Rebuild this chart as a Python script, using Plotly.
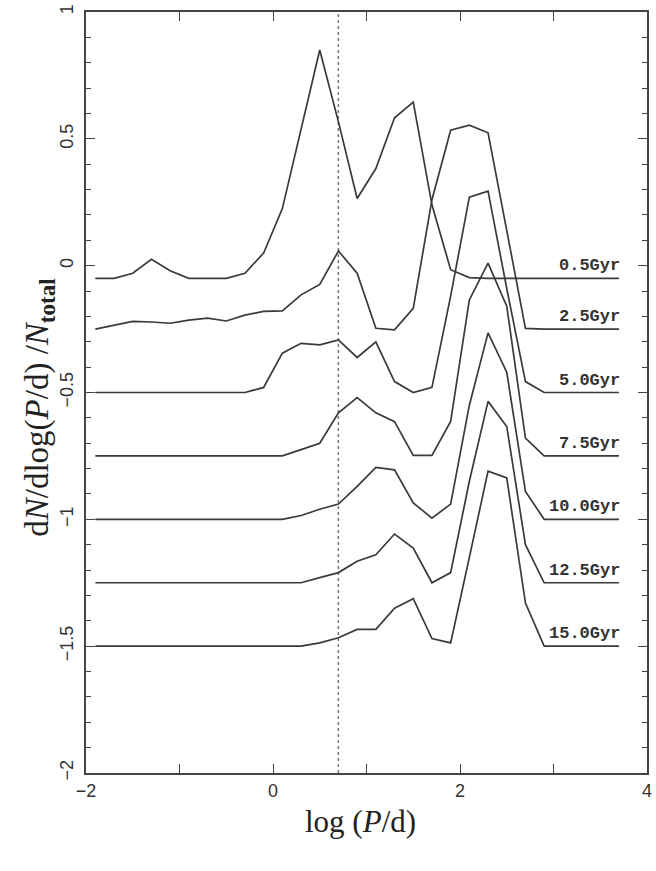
import plotly.graph_objects as go

LOGP = [-1.9, -1.7, -1.5, -1.3, -1.1, -0.9, -0.7, -0.5, -0.3, -0.1, 0.1, 0.3, 0.5,
        0.7, 0.9, 1.1, 1.3, 1.5, 1.7, 1.9, 2.1, 2.3, 2.5, 2.7, 2.9, 3.7]

AGE_LABELS = ["0.5Gyr", "2.5Gyr", "5.0Gyr", "7.5Gyr", "10.0Gyr", "12.5Gyr", "15.0Gyr"]

G05 = [-0.05, -0.05, -0.03, 0.025, -0.02, -0.05, -0.05, -0.05, -0.03, 0.05, 0.225, 0.54, 0.85,
       0.567, 0.265, 0.383, 0.583, 0.645, 0.24, -0.016, -0.047, -0.05, -0.05, -0.05, -0.05, -0.05]
G25 = [-0.25, -0.235, -0.22, -0.222, -0.227, -0.215, -0.207, -0.218, -0.195, -0.18, -0.178, -0.115, -0.074,
       0.058, -0.03, -0.247, -0.253, -0.168, 0.26, 0.534, 0.554, 0.524, 0.14, -0.247, -0.25, -0.25]
G50 = [-0.5, -0.5, -0.5, -0.5, -0.5, -0.5, -0.5, -0.5, -0.5, -0.48, -0.345, -0.306, -0.312,
       -0.293, -0.362, -0.30, -0.457, -0.5, -0.48, -0.12, 0.27, 0.294, -0.09, -0.457, -0.5, -0.5]
G75 = [-0.75, -0.75, -0.75, -0.75, -0.75, -0.75, -0.75, -0.75, -0.75, -0.75, -0.75, -0.725, -0.70,
       -0.58, -0.52, -0.58, -0.615, -0.748, -0.748, -0.614, -0.135, 0.01, -0.16, -0.68, -0.75, -0.75]
G100 = [-1.0, -1.0, -1.0, -1.0, -1.0, -1.0, -1.0, -1.0, -1.0, -1.0, -1.0, -0.985, -0.96,
        -0.94, -0.87, -0.795, -0.805, -0.935, -0.995, -0.94, -0.55, -0.265, -0.42, -0.89, -1.0, -1.0]
G125 = [-1.25, -1.25, -1.25, -1.25, -1.25, -1.25, -1.25, -1.25, -1.25, -1.25, -1.25, -1.25, -1.23,
        -1.21, -1.165, -1.14, -1.058, -1.113, -1.25, -1.21, -0.85, -0.535, -0.634, -1.10, -1.25, -1.25]
G150 = [-1.5, -1.5, -1.5, -1.5, -1.5, -1.5, -1.5, -1.5, -1.5, -1.5, -1.5, -1.5, -1.487,
        -1.467, -1.434, -1.434, -1.35, -1.313, -1.47, -1.487, -1.15, -0.81, -0.837, -1.33, -1.5, -1.5]

SERIES = [G05, G25, G50, G75, G100, G125, G150]

X_TICKS = [-2, -1, 0, 1, 2, 3, 4]
X_TICKTEXT = ["\u22122", "", "0", "", "2", "", "4"]
Y_TICKS = [1, 0.5, 0, -0.5, -1, -1.5, -2]
Y_TICKTEXT = ["1", "0.5", "0", "\u22120.5", "\u22121", "\u22121.5", "\u22122"]
DOTTED_X = 0.699

LINE_COLOR = "#3a3a3a"

fig = go.Figure()
for name, ys in zip(AGE_LABELS, SERIES):
    fig.add_trace(go.Scatter(x=LOGP, y=ys, mode="lines", name=name,
                             line=dict(color=LINE_COLOR, width=1.7), showlegend=False,
                             hoverinfo="skip"))
    fig.add_annotation(x=LOGP[-1], y=ys[-1], text="<b>" + name + "</b>", showarrow=False,
                       xanchor="right", yanchor="bottom", yshift=1, xshift=3,
                       font=dict(family="Liberation Mono", size=17, color="#333333"))

fig.add_shape(type="line", x0=DOTTED_X, x1=DOTTED_X, y0=-2, y1=1, xref="x", yref="y",
              line=dict(color="#777777", width=1.5, dash="dot"), layer="below")

axis_common = dict(showline=True, linecolor="#444444", linewidth=1.8, mirror="ticks",
                   ticks="inside", tickcolor="#444444", showgrid=False, zeroline=False,
                   tickfont=dict(family="Liberation Sans", size=18, color="#333333"))

fig.update_xaxes(range=[-2, 4], tickmode="array", tickvals=X_TICKS, ticktext=X_TICKTEXT,
                 ticklen=9, tickwidth=1.3, **axis_common)
fig.update_yaxes(range=[-2, 1], tickmode="array", tickvals=Y_TICKS, ticktext=Y_TICKTEXT,
                 ticklen=9, tickwidth=1.3, tickangle=-90, ticklabelstandoff=4,
                 minor=dict(dtick=0.1, ticklen=5, ticks="inside", tickcolor="#444444", tickwidth=1.2),
                 **axis_common)

fig.add_annotation(xref="paper", yref="paper", x=-0.122, y=0.48,
                   text="d<i>N</i>/dlog(<i>P</i>/d) /<i>N</i><sub><b>total</b></sub>",
                   textangle=-90, showarrow=False,
                   font=dict(family="Liberation Serif", size=33, color="#222222"))
fig.add_annotation(xref="paper", yref="paper", x=0.49, y=-0.09,
                   text="log (<i>P</i>/d)", showarrow=False,
                   font=dict(family="Liberation Serif", size=31, color="#222222"))

fig.update_layout(width=656, height=871, margin=dict(l=86, r=4, t=11, b=98),
                  plot_bgcolor="white", paper_bgcolor="white")

fig.write_html("out.html")
